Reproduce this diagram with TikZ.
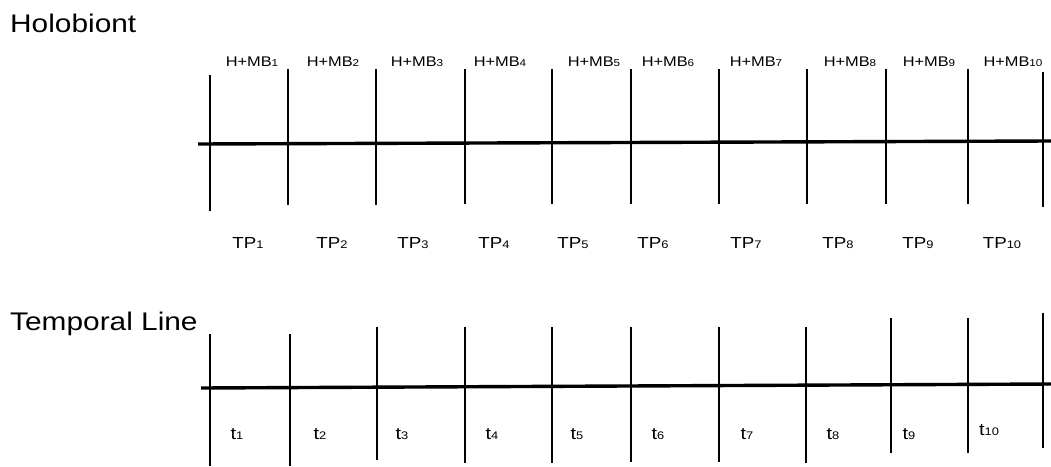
\documentclass[tikz,border=0pt]{standalone}
\usepackage{fontspec}
\setmainfont{Liberation Sans}[FakeStretch=1.17]
\usetikzlibrary{positioning}
\newcommand{\idx}[2]{\raisebox{-0.8pt}{\fontsize{#1}{#1}\selectfont #2}}

\begin{document}
\begin{tikzpicture}[x=1pt, y=-1pt,
  title/.style={font=\fontsize{25.5}{27}\selectfont, anchor=base west, inner sep=0pt},
  mblabel/.style={font=\fontsize{14}{15}\selectfont, anchor=base, inner sep=0pt},
  tplabel/.style={font=\fontsize{16}{17}\selectfont, anchor=base, inner sep=0pt},
  tlabel/.style={font=\fontsize{17}{18}\selectfont, anchor=base, inner sep=0pt},
  axis/.style={line width=3.4pt},
  tick/.style={line width=1.4pt}]

\useasboundingbox (0,0) rectangle (1051,466);

\node[title] (holo) at (10,32)  {Holobiont};
\node[title] (temp) at (10,330) {Temporal Line};

%% Holobiont axis with its ticks
\coordinate (ha) at (198,144);
\coordinate (hb) at (1051,141);
\draw[axis] (ha) -- (hb);
\foreach \x/\ya/\yb [count=\i] in {210/75/211, 288/69/205, 376/69/205, 465/69/204,
    552/69/204, 631/69/204, 719/69/204, 807/69/204, 886/69/204, 968/69/204, 1043/72/207}{
  \coordinate (hu\i) at (\x,\ya);
  \coordinate (hd\i) at (\x,\yb);
  \draw[tick] (hu\i) -- (hd\i);
}
\foreach \x [count=\i] in {252,333,417,500,594,668,756,850,929,1013}
  \node[mblabel] (mb\i) at (\x,66) {H+MB\idx{10}{\i}};
\foreach \x [count=\i] in {248,332,413,494,573,653,746,838,918,1002}
  \node[tplabel] (tp\i) at (\x,248) {TP\idx{11}{\i}};

%% Temporal axis with its ticks
\coordinate (ta) at (201,388);
\coordinate (tb) at (1051,384);
\draw[axis] (ta) -- (tb);
\foreach \x/\ya/\yb [count=\i] in {210/334/466, 290/334/466, 377/327/460, 465/327/463,
    552/327/463, 631/327/462, 719/327/462, 806/327/463, 891/318/453, 968/318/453, 1043/313/448}{
  \coordinate (tu\i) at (\x,\ya);
  \coordinate (td\i) at (\x,\yb);
  \draw[tick] (tu\i) -- (td\i);
}
\foreach \x/\y [count=\i] in {237/439,320/439,402/439,492/439,577/439,658/439,
    747/439,833/439,909/439,989/435}
  \node[tlabel] (t\i) at (\x,\y) {t\idx{11}{\i}};
\end{tikzpicture}
\end{document}
